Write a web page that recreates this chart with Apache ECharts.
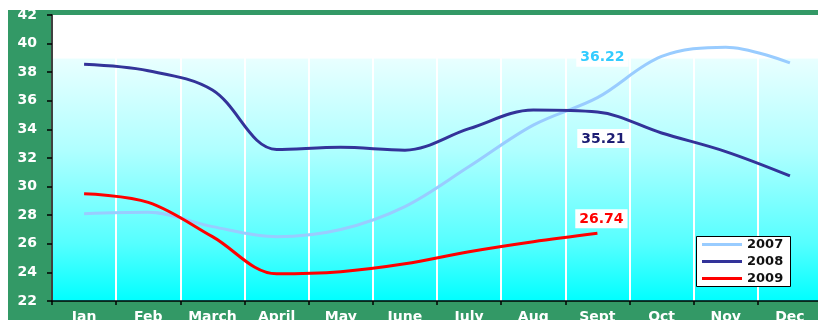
<!DOCTYPE html>
<html>
<head>
<meta charset="utf-8">
<script src="https://cdn.jsdelivr.net/npm/echarts@6/dist/echarts.min.js"></script>
<style>
  html, body { margin: 0; padding: 0; background: #fff; }
  #chart { width: 818px; height: 320px; }
</style>
</head>
<body>
<div id="chart"></div>
<script>
// Monthly price series, one array per year
const months = ['Jan', 'Feb', 'March', 'April', 'May', 'June', 'July', 'Aug', 'Sept', 'Oct', 'Nov', 'Dec'];
const seriesNames = ['2007', '2008', '2009'];
const values2007 = [28.1, 28.2, 27.2, 26.5, 27.0, 28.6, 31.4, 34.3, 36.22, 39.1, 39.75, 38.65];
const values2008 = [38.55, 38.1, 36.75, 32.6, 32.75, 32.55, 34.05, 35.35, 35.21, 33.75, 32.45, 30.75];
const values2009 = [29.5, 28.9, 26.5, 23.9, 24.05, 24.6, 25.45, 26.15, 26.74];
// Month whose value is written next to each line
const labelledMonth = 'Sept';

const FONT = 'DejaVu Sans';
const colors = { '2007': '#99ccff', '2008': '#333399', '2009': '#ff0000' };

// attach a value label to the chosen month of a series
function withLabel(values, label) {
  const idx = months.indexOf(labelledMonth);
  return values.map((v, i) => i === idx ? { value: v, label: Object.assign({
    show: true,
    fontFamily: FONT,
    fontWeight: 'bold',
    fontSize: 14,
    backgroundColor: '#ffffff',
    padding: [3, 4, 2, 4]
  }, label) } : v);
}

function lineSeries(name, data) {
  return {
    name: name,
    type: 'line',
    data: data,
    smooth: 0.35,
    symbol: 'circle',
    symbolSize: 0,
    showSymbol: true,
    lineStyle: { color: colors[name], width: 3 },
    itemStyle: { color: colors[name] },
    emphasis: { disabled: true },
    z: 2
  };
}

const chart = echarts.init(document.getElementById('chart'), null, { renderer: 'canvas' });

chart.setOption({
  animation: false,
  backgroundColor: '#ffffff',
  graphic: [{
    // green frame around the plot
    type: 'rect',
    z: -100,
    shape: { x: 8, y: 10, width: 810, height: 310 },
    style: { fill: '#339966' },
    silent: true
  }, {
    // legend box
    type: 'rect',
    z: 3,
    shape: { x: 696.5, y: 236.5, width: 94, height: 50 },
    style: { fill: '#ffffff', stroke: '#000000', lineWidth: 1 },
    silent: true
  }],
  grid: {
    left: 52, top: 15, right: -4, bottom: 19,
    outerBoundsMode: 'none',
    containLabel: false,
    show: true,
    borderWidth: 0,
    backgroundColor: {
      type: 'linear', x: 0, y: 0, x2: 0, y2: 1,
      colorStops: [
        { offset: 0, color: '#ffffff' },
        { offset: 0.15, color: '#ffffff' },
        { offset: 0.155, color: '#e8ffff' },
        { offset: 0.47, color: '#b0ffff' },
        { offset: 0.8, color: '#55ffff' },
        { offset: 1, color: '#00ffff' }
      ]
    }
  },
  legend: {
    orient: 'vertical',
    left: 696, top: 236,
    z: 4,
    data: seriesNames,
    icon: 'rect',
    itemWidth: 40, itemHeight: 3,
    itemGap: 4,
    padding: [2, 6, 3, 6],
    textStyle: { fontFamily: FONT, fontWeight: 'bold', fontSize: 13, color: '#111111' }
  },
  xAxis: {
    type: 'category',
    data: months,
    boundaryGap: true,
    axisLine: { lineStyle: { color: '#000000', width: 1.5 } },
    axisTick: { show: true, length: 4, lineStyle: { color: '#000000', width: 1.5 } },
    splitLine: { show: true, lineStyle: { color: '#ffffff', width: 2 } },
    axisLabel: { color: '#ffffff', fontFamily: FONT, fontWeight: 'bold', fontSize: 14, margin: 9 }
  },
  yAxis: {
    type: 'value',
    min: 22, max: 42, interval: 2,
    axisLine: { show: true, lineStyle: { color: '#000000', width: 1.5 } },
    axisTick: { show: true, length: 5, lineStyle: { color: '#000000', width: 1.5 } },
    splitLine: { show: false },
    axisLabel: { color: '#ffffff', fontFamily: FONT, fontWeight: 'bold', fontSize: 14, margin: 15 }
  },
  series: [
    lineSeries('2007', withLabel(values2007, { position: 'top', distance: 31, offset: [5, 0], color: '#33ccff' })),
    lineSeries('2008', withLabel(values2008, { position: 'bottom', distance: 17, offset: [6, 0], color: '#1c1c73' })),
    lineSeries('2009', withLabel(values2009, { position: 'top', distance: 5, offset: [4, 0], color: '#ff0000' }))
  ]
});
</script>
</body>
</html>
